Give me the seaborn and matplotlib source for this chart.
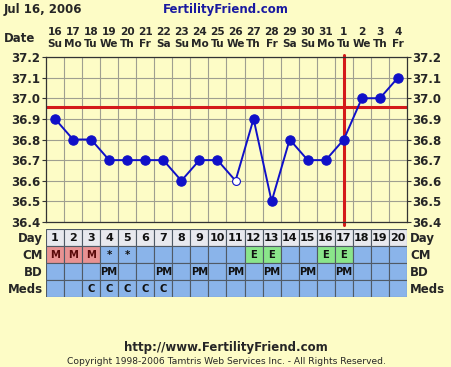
import matplotlib
matplotlib.use("Agg")
import matplotlib.pyplot as plt
import seaborn as sns
import pandas as pd
import numpy as np

# ---- data ----
days = list(range(1, 21))
dates = [16, 17, 18, 19, 20, 21, 22, 23, 24, 25, 26, 27, 28, 29, 30, 31, 1, 2, 3, 4]
weekdays = ["Su", "Mo", "Tu", "We", "Th", "Fr", "Sa", "Su", "Mo", "Tu",
            "We", "Th", "Fr", "Sa", "Su", "Mo", "Tu", "We", "Th", "Fr"]
temps = [36.9, 36.8, 36.8, 36.7, 36.7, 36.7, 36.7, 36.6, 36.7, 36.7,
         36.6, 36.9, 36.5, 36.8, 36.7, 36.7, 36.8, 37.0, 37.0, 37.1]
open_days = [11]
coverline = 36.96
ovulation_day = 17
y_ticks = [36.4, 36.5, 36.6, 36.7, 36.8, 36.9, 37.0, 37.1, 37.2]
cm = ["M", "M", "M", "*", "*", "", "", "", "", "", "", "E", "E", "", "", "E", "E", "", "", ""]
bd = ["", "", "", "PM", "", "", "PM", "", "PM", "", "PM", "", "PM", "", "PM", "", "PM", "", "", ""]
meds = ["", "", "C", "C", "C", "C", "C", "", "", "", "", "", "", "", "", "", "", "", "", ""]
row_labels = ["Day", "CM", "BD", "Meds"]

BG = "#fdfcc6"
BLUE = "#1010c8"
RED = "#d41a1a"
ROWBLUE = "#8ab4ea"
PINK = "#e89292"
GREEN = "#8ae58a"
GRAY = "#e8e9ee"
FONT = "DejaVu Sans"

sns.set_style("white")
plt.rcParams["font.family"] = [FONT]
plt.rcParams["font.weight"] = "bold"

W, H = 452, 367
fig = plt.figure(figsize=(W / 100, H / 100), dpi=100, facecolor=BG)

def fx(px):
    return px / W

def fy(px):
    return 1 - px / H

L, R = 46, 407
ax = fig.add_axes([fx(L), fy(222), fx(R - L), fy(57) - fy(222)])
ax.set_facecolor(BG)

df = pd.DataFrame({"day": days, "temp": temps})
df["open"] = df["day"].isin(open_days)

sns.lineplot(data=df, x="day", y="temp", color=BLUE, lw=1.4, ax=ax, zorder=3)
sns.scatterplot(data=df[~df["open"]], x="day", y="temp", color=BLUE, s=45,
                edgecolor=BLUE, linewidth=0.8, ax=ax, zorder=4)
sns.scatterplot(data=df[df["open"]], x="day", y="temp", color="white", s=32,
                edgecolor=BLUE, linewidth=0.8, ax=ax, zorder=4)

ax.set_xlim(0.5, 20.5)
ax.set_ylim(36.4, 37.2)
for xb in np.arange(1.5, 20.5, 1):
    ax.axvline(xb, color="#9f9f90", lw=0.8, zorder=1)
for yv in y_ticks:
    ax.axhline(yv, color="#9f9f90", lw=0.8, zorder=1)
ax.axhline(coverline, color=RED, lw=2.2, zorder=2)
ax.axvline(ovulation_day, color=RED, lw=2.2, zorder=2, ymin=-0.02, ymax=1.01, clip_on=False)

ax.set_yticks(y_ticks)
ax.set_yticklabels([f"{v:.1f}" for v in y_ticks], fontsize=8.5, fontweight="bold")
ax.tick_params(axis="y", which="both", left=True, right=True, labelleft=True, labelright=True,
               length=3, width=0.8, pad=1, color="#333333")
ax.set_xticks(days)
ax.set_xticklabels([f"{d}\n{w}" for d, w in zip(dates, weekdays)], fontsize=7.6,
                   fontweight="bold", linespacing=1.35)
ax.tick_params(axis="x", bottom=False, top=False, labelbottom=False, labeltop=True, pad=2)
ax.set_xlabel("")
ax.set_ylabel("")
for s in ax.spines.values():
    s.set_color("#333333")
    s.set_linewidth(0.9)

fig.text(fx(4), fy(39), "Date", fontsize=8.5, fontweight="bold", va="center", ha="left")

# ---- table ----
tax = fig.add_axes([fx(L), fy(297), fx(R - L), fy(229) - fy(297)])
tax.set_xlim(0.5, 20.5)
tax.set_ylim(4, 0)
tax.axis("off")

def cm_color(v):
    if v == "M":
        return PINK
    if v == "E":
        return GREEN
    return ROWBLUE

rows = [
    ([str(d) for d in days], [GRAY] * 20),
    (cm, [cm_color(v) for v in cm]),
    (bd, [ROWBLUE] * 20),
    (meds, [ROWBLUE] * 20),
]
for r, (vals, colors) in enumerate(rows):
    tax.bar(days, [1] * 20, bottom=[r] * 20, width=1, color=colors,
            edgecolor="#505a66", linewidth=0.8)
    fs = 8 if r == 0 else 7.2
    for d, v in zip(days, vals):
        if v:
            tax.text(d, r + 0.55, v, ha="center", va="center", fontsize=fs,
                     fontweight="bold", color="#111111" if r != 1 or v != "M" else "#5a0a0a")
    yc = fy(229) - (r + 0.55) * (fy(229) - fy(297)) / 4
    fig.text(fx(L - 3), yc, row_labels[r], ha="right", va="center", fontsize=8.5, fontweight="bold")
    fig.text(fx(R + 3), yc, row_labels[r], ha="left", va="center", fontsize=8.5, fontweight="bold")

# ---- titles ----
fig.text(fx(4), fy(10), "Jul 16, 2006", fontsize=8.5, fontweight="bold", va="center", ha="left")
fig.text(fx(226), fy(10), "FertilityFriend.com", fontsize=8.5, fontweight="bold",
         va="center", ha="center", color="#1a1aa0")
fig.text(fx(226), fy(347), "http://www.FertilityFriend.com", fontsize=8.5, fontweight="bold",
         va="center", ha="center")
fig.text(fx(226), fy(362), "Copyright 1998-2006 Tamtris Web Services Inc. - All Rights Reserved.",
         fontsize=6.6, va="center", ha="center", fontweight="normal")

fig.savefig("out.png", dpi=100, facecolor=BG)
